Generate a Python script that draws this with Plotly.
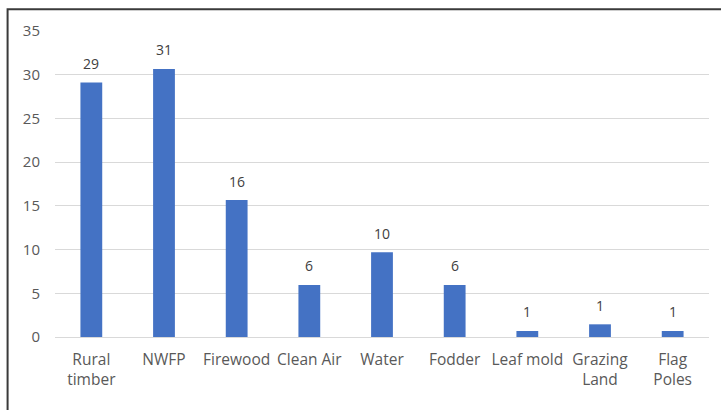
import plotly.graph_objects as go

# Ecosystem services / products and their scores
categories = ["Rural<br>timber", "NWFP", "Firewood", "Clean Air", "Water",
              "Fodder", "Leaf mold", "Grazing<br>Land", "Flag<br>Poles"]
values = [29.1, 30.66, 15.67, 5.96, 9.7, 5.96, 0.69, 1.45, 0.69]
y_ticks = [0, 5, 10, 15, 20, 25, 30, 35]

BAR_COLOR = "#4472C4"
GRID_COLOR = "#D9D9D9"
TEXT_COLOR = "#595959"
FONT = "'Open Sans', sans-serif"

fig = go.Figure(
    go.Bar(
        x=categories,
        y=values,
        marker=dict(color=BAR_COLOR, line=dict(width=0)),
        hoverinfo="x+y",
    )
)

# Rounded value labels above each bar
for cat, val in zip(categories, values):
    fig.add_annotation(
        x=cat, y=val, text=f"{val:.0f}", showarrow=False,
        yanchor="middle", yshift=19,
        font=dict(family=FONT, size=14, color="#404040"),
    )

# Outer frame around the chart
fig.add_shape(
    type="rect", xref="paper", yref="paper",
    x0=-0.0725, x1=1.1, y0=-0.3, y1=1.071,
    line=dict(color="#3A3A3A", width=2), fillcolor="rgba(0,0,0,0)",
    layer="above",
)

fig.update_layout(
    width=721, height=410,
    margin=dict(l=55, r=12, t=31, b=73),
    paper_bgcolor="white", plot_bgcolor="white",
    bargap=0.7,
    showlegend=False,
    font=dict(family=FONT, size=14, color=TEXT_COLOR),
    xaxis=dict(
        showgrid=False, showline=True, linecolor=GRID_COLOR, linewidth=1,
        ticks="", tickfont=dict(family=FONT, size=15.5, color=TEXT_COLOR),
        ticklabelstandoff=8,
    ),
    yaxis=dict(
        range=[0, 35], tickvals=y_ticks,
        showgrid=True, gridcolor=GRID_COLOR, gridwidth=1,
        zeroline=False, showline=False, ticks="",
        tickfont=dict(family=FONT, size=15, color=TEXT_COLOR),
        ticklabelstandoff=14,
    ),
)

fig.write_html("out.html")
